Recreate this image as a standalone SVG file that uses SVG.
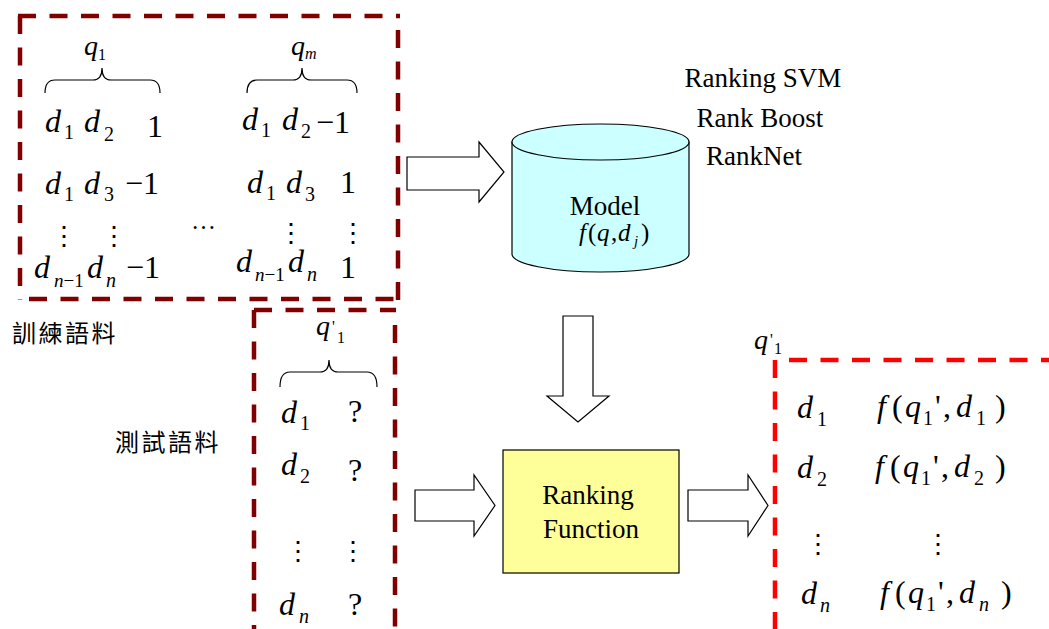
<svg xmlns="http://www.w3.org/2000/svg" width="1049" height="629" viewBox="0 0 1049 629">
  <style>
    text { fill: #000; }
    .mi { font-family: "Liberation Serif", serif; font-style: italic; font-size: 32px; }
    .mn { font-family: "Liberation Serif", serif; font-size: 32px; }
    .sb { font-family: "Liberation Serif", serif; font-size: 20px; }
    .sbi { font-family: "Liberation Serif", serif; font-size: 20px; font-style: italic; }
    .qi { font-family: "Liberation Serif", serif; font-style: italic; font-size: 28px; }
    .qs { font-family: "Liberation Serif", serif; font-size: 16px; }
    .qsi { font-family: "Liberation Serif", serif; font-size: 16px; font-style: italic; }
    .vd { font-family: "DejaVu Serif", serif; font-size: 26px; }
    .lbl { font-family: "Liberation Serif", serif; font-size: 27px; }
    .cjk { font-family: "Noto Sans CJK TC", sans-serif; font-size: 24px; letter-spacing: 2.5px; }
    .dk { fill: none; stroke: #800000; stroke-width: 4.5; stroke-dasharray: 18 13.5; }
    .rd { fill: none; stroke: #ff0000; stroke-width: 4.5; stroke-dasharray: 18 13.5; }
    .brace { fill: none; stroke: #000; stroke-width: 1.2; }
    .blk { fill: #fff; stroke: #000; stroke-width: 1.2; stroke-linejoin: miter; }
    .fx { font-family: "Liberation Serif", serif; font-size: 25px; }
    .it { font-style: italic; }
    .s15 { font-size: 15px; }
  </style>

  <!-- training pairs -->
  <g id="training-set">
    <path class="dk" d="M18,16 H400"/>
    <path class="dk" d="M20,16 V300"/>
    <path class="dk" d="M398,30 V300"/>
    <path class="dk" d="M29,299 H398"/>
    <text class="qi" x="84" y="55">q</text><text class="qs" x="98" y="60">1</text>
    <text class="qi" x="291" y="55">q</text><text class="qsi" x="305" y="59">m</text>
    <path class="brace" d="M45,93 Q45,80 55,80 H93 Q102,80 102,68 Q102,80 111,80 H150 Q160,80 160,93"/>
    <path class="brace" d="M247,93 Q247,80 257,80 H293 Q302,80 302,68 Q302,80 311,80 H347 Q357,80 357,93"/>
    <!-- q1 column -->
    <text class="mi" x="45" y="132">d</text><text class="sb" x="64" y="139">1</text>
    <text class="mi" x="84" y="132">d</text><text class="sb" x="104" y="141">2</text>
    <text class="mn" x="147" y="137">1</text>
    <text class="mi" x="45" y="194">d</text><text class="sb" x="64" y="201">1</text>
    <text class="mi" x="84" y="194">d</text><text class="sb" x="104" y="201">3</text>
    <text class="mn" x="125" y="194">−1</text>
    <text class="vd" x="51" y="245">⋮</text>
    <text class="vd" x="101" y="245">⋮</text>
    <text class="mi" x="34" y="278">d</text><text class="sb" x="54" y="287" style="font-size:19px"><tspan font-style="italic">n</tspan>−1</text>
    <text class="mi" x="87" y="278">d</text><text class="sbi" x="106" y="287">n</text>
    <text class="mn" x="126" y="278">−1</text>
    <!-- qm column -->
    <text class="mn" x="191" y="229" style="font-size:25px">…</text>
    <text class="mi" x="242" y="130">d</text><text class="sb" x="261" y="137">1</text>
    <text class="mi" x="282" y="130">d</text><text class="sb" x="301" y="138">2</text>
    <text class="mn" x="316" y="133">−1</text>
    <text class="mi" x="247" y="193">d</text><text class="sb" x="266" y="200">1</text>
    <text class="mi" x="286" y="193">d</text><text class="sb" x="305" y="201">3</text>
    <text class="mn" x="340" y="193">1</text>
    <text class="vd" x="278" y="242">⋮</text>
    <text class="vd" x="340" y="242">⋮</text>
    <text class="mi" x="236" y="272">d</text><text class="sb" x="255" y="281" style="font-size:19px"><tspan font-style="italic">n</tspan>−1</text>
    <text class="mi" x="288" y="272">d</text><text class="sbi" x="307" y="281">n</text>
    <text class="mn" x="340" y="278">1</text>
    <text class="cjk" x="12" y="342">訓練語料</text>
  </g>

  <!-- unlabeled test documents -->
  <g id="test-set">
    <path class="dk" d="M254,310 H396"/>
    <path class="dk" d="M254,310 V640"/>
    <path class="dk" d="M395,325 V640"/>
    <text class="qi" x="316" y="335">q</text><text class="qs" x="332" y="332">'</text><text class="qs" x="337" y="343">1</text>
    <path class="brace" d="M280,387 Q280,372 290,372 H320 Q329,372 329,360 Q329,372 338,372 H367 Q377,372 377,387"/>
    <text class="mi" x="281" y="423">d</text><text class="sb" x="300" y="430">1</text>
    <text class="mn" x="348" y="422">?</text>
    <text class="mi" x="281" y="475">d</text><text class="sb" x="300" y="483">2</text>
    <text class="mn" x="348" y="481">?</text>
    <text class="vd" x="285" y="560">⋮</text>
    <text class="vd" x="340" y="560">⋮</text>
    <text class="mi" x="279" y="615">d</text><text class="sbi" x="299" y="623">n</text>
    <text class="mn" x="348" y="615">?</text>
    <text class="cjk" x="115" y="451">測試語料</text>
  </g>

  <!-- learning algorithms -->
  <g id="algorithms">
    <text class="lbl" x="763" y="87" text-anchor="middle">Ranking SVM</text>
    <text class="lbl" x="760" y="127" text-anchor="middle">Rank Boost</text>
    <text class="lbl" x="754" y="165" text-anchor="middle">RankNet</text>
  </g>

  <!-- learned model -->
  <g id="model">
    <path d="M512,142 V254 A88.5,18 0 0 0 689,254 V142 Z" fill="#ccffff" stroke="#000" stroke-width="1.2"/>
    <ellipse cx="600.5" cy="142" rx="88.5" ry="18" fill="#ccffff" stroke="#000" stroke-width="1.2"/>
    <text class="lbl" x="605" y="215" text-anchor="middle">Model</text>
    <text class="fx" y="241"><tspan class="it" x="579">f</tspan><tspan x="588">(</tspan><tspan class="it" x="597">q</tspan><tspan x="611">,</tspan><tspan class="it" x="618">d</tspan><tspan class="it s15" x="634" dy="5">j</tspan><tspan x="641" dy="-5">)</tspan></text>
  </g>

  <!-- ranking function -->
  <g id="ranking-function">
    <rect x="503" y="450" width="176" height="123" fill="#ffff99" stroke="#000" stroke-width="1.2"/>
    <text class="lbl" x="588" y="504" text-anchor="middle">Ranking</text>
    <text class="lbl" x="591" y="538" text-anchor="middle">Function</text>
  </g>

  <!-- ranked output -->
  <g id="ranked-result">
    <path class="rd" d="M775,360 V640"/>
    <path class="rd" d="M789,360 H1060"/>
    <text class="qi" x="754" y="349">q</text><text class="qs" x="770" y="345">'</text><text class="qs" x="774" y="354">1</text>
    <text class="mi" x="797" y="418">d</text><text class="sb" x="817" y="426">1</text>
    <text class="mi" x="877" y="417">f</text><text class="mn" x="892" y="417">(</text><text class="mi" x="905" y="417">q</text><text class="sb" x="923" y="425">1</text><text class="mn" x="935" y="417">'</text><text class="mn" x="943" y="417">,</text><text class="mi" x="956" y="417">d</text><text class="sb" x="976" y="425">1</text><text class="mn" x="995" y="417">)</text>
    <text class="mi" x="797" y="478">d</text><text class="sb" x="817" y="486">2</text>
    <text class="mi" x="875" y="477">f</text><text class="mn" x="890" y="477">(</text><text class="mi" x="903" y="477">q</text><text class="sb" x="921" y="485">1</text><text class="mn" x="933" y="477">'</text><text class="mn" x="941" y="477">,</text><text class="mi" x="954" y="477">d</text><text class="sb" x="974" y="485">2</text><text class="mn" x="995" y="477">)</text>
    <text class="vd" x="805" y="553">⋮</text>
    <text class="vd" x="925" y="553">⋮</text>
    <text class="mi" x="801" y="604">d</text><text class="sbi" x="820" y="612">n</text>
    <text class="mi" x="880" y="603">f</text><text class="mn" x="895" y="603">(</text><text class="mi" x="908" y="603">q</text><text class="sb" x="926" y="611">1</text><text class="mn" x="938" y="603">'</text><text class="mn" x="946" y="603">,</text><text class="mi" x="959" y="603">d</text><text class="sbi" x="979" y="611">n</text><text class="mn" x="1001" y="603">)</text>
  </g>

  <!-- block arrows between stages -->
  <g id="connectors">
    <polygon class="blk" points="407,157 479,157 479,142 504,172 479,202 479,190 407,190"/>
    <polygon class="blk" points="563,316 593,316 593,396 609,396 578,422 547,396 563,396"/>
    <polygon class="blk" points="415,490 474,490 474,475 495,505.5 474,536 474,521 415,521"/>
    <polygon class="blk" points="688,490 748,490 748,475 768,505.5 748,536 748,521 688,521"/>
  </g>
</svg>
